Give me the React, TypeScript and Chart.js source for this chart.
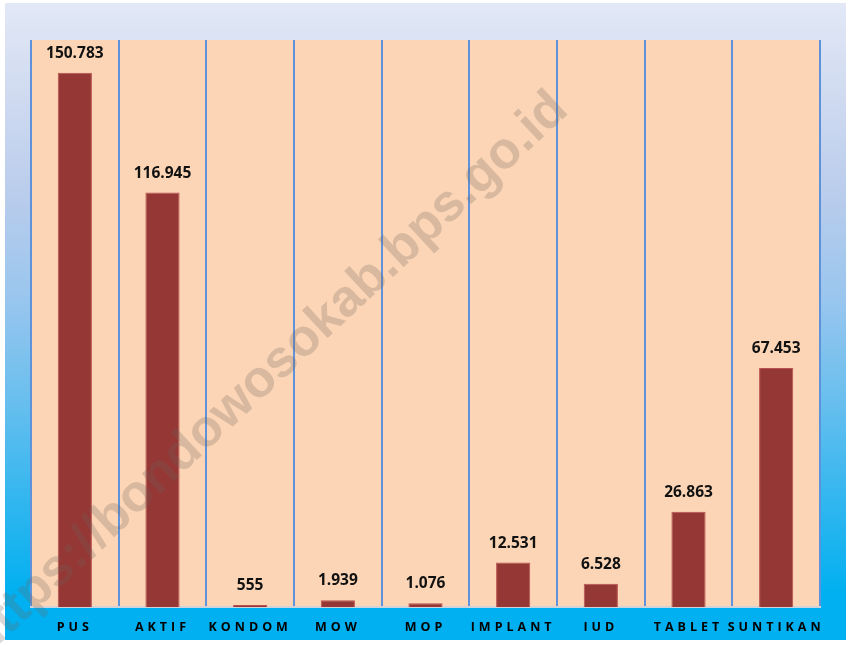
import React, { useEffect, useRef } from "react";
import { Chart, registerables } from "chart.js";

Chart.register(...registerables);

const categories = ["PUS", "AKTIF", "KONDOM", "MOW", "MOP", "IMPLANT", "IUD", "TABLET", "SUNTIKAN"];
const values = [150783, 116945, 555, 1939, 1076, 12531, 6528, 26863, 67453];
const yMax = 160000;
const watermark = "https://bondowosokab.bps.go.id";

const fmt = (v: number) => String(v).replace(/\B(?=(\d{3})+(?!\d))/g, ".");

const decorPlugin = {
  id: "decor",
  beforeDraw(chart: any) {
    const ctx = chart.ctx as CanvasRenderingContext2D;
    const { chartArea } = chart;
    ctx.save();
    ctx.fillStyle = "#ffffff";
    ctx.fillRect(0, 0, chart.width, chart.height);
    const g = ctx.createLinearGradient(0, 3, 0, 640);
    g.addColorStop(0, "#E2E8F6");
    g.addColorStop(0.15, "#CFDAF0");
    g.addColorStop(0.31, "#B8CCEC");
    g.addColorStop(0.46, "#9AC6EE");
    g.addColorStop(0.62, "#6ABFEE");
    g.addColorStop(0.78, "#32B6EF");
    g.addColorStop(0.93, "#00B0F0");
    g.addColorStop(1, "#00B0F0");
    ctx.fillStyle = g;
    ctx.fillRect(5, 3, 841, 637);
    ctx.fillStyle = "#FBD5B5";
    ctx.fillRect(chartArea.left, chartArea.top, chartArea.right - chartArea.left, chartArea.bottom - chartArea.top);
    ctx.restore();
    (ctx as any).letterSpacing = "4px";
  },
  beforeDatasetsDraw(chart: any) {
    (chart.ctx as any).letterSpacing = "0px";
  },
  afterDatasetsDraw(chart: any) {
    const ctx = chart.ctx as CanvasRenderingContext2D;
    const meta = chart.getDatasetMeta(0);
    ctx.save();
    (ctx as any).letterSpacing = "0px";
    ctx.font = 'bold 15.5px "Open Sans"';
    ctx.fillStyle = "#111111";
    ctx.textAlign = "center";
    ctx.textBaseline = "alphabetic";
    meta.data.forEach((bar: any, i: number) => {
      ctx.fillText(fmt(values[i]), bar.x, bar.y - 15);
    });
    ctx.restore();
  },
  afterDraw(chart: any) {
    const ctx = chart.ctx as CanvasRenderingContext2D;
    ctx.save();
    (ctx as any).letterSpacing = "0px";
    ctx.translate(570, 112);
    ctx.rotate((-43 * Math.PI) / 180);
    ctx.font = 'bold 52px "Liberation Sans"';
    ctx.fillStyle = "rgba(110,100,90,0.25)";
    ctx.textAlign = "right";
    ctx.textBaseline = "alphabetic";
    ctx.fillText(watermark, 0, 0);
    ctx.restore();
  },
};

export default function App() {
  const ref = useRef<HTMLCanvasElement | null>(null);
  useEffect(() => {
    document.body.style.margin = "0";
    const chart = new Chart(ref.current!, {
      type: "bar",
      data: {
        labels: categories,
        datasets: [
          {
            data: values,
            backgroundColor: "#953735",
            borderColor: "#B9524F",
            borderWidth: 1,
            barPercentage: 0.39,
            categoryPercentage: 1,
          },
        ],
      },
      options: {
        responsive: false,
        animation: false,
        devicePixelRatio: 1,
        layout: { padding: { left: 31, right: 29, top: 40, bottom: 0 } },
        plugins: { legend: { display: false }, tooltip: { enabled: false } },
        scales: {
          y: { display: false, min: 0, max: yMax },
          x: {
            offset: true,
            grid: { color: "#5E92DA", lineWidth: 2, offset: true, drawTicks: false },
            border: { color: "#D0D4DA", width: 2 },
            ticks: {
              color: "#000000",
              font: { family: "Open Sans", weight: "bold", size: 12.5 },
              padding: 13,
              maxRotation: 0,
              autoSkip: false,
            },
            afterFit: (scale: any) => {
              scale.height = 39;
            },
          },
        },
      },
      plugins: [decorPlugin],
    });
    return () => chart.destroy();
  }, []);
  return (
    <div style={{ position: "absolute", left: 0, top: 0, width: 849, height: 646 }}>
      <canvas ref={ref} width={849} height={646} />
    </div>
  );
}
